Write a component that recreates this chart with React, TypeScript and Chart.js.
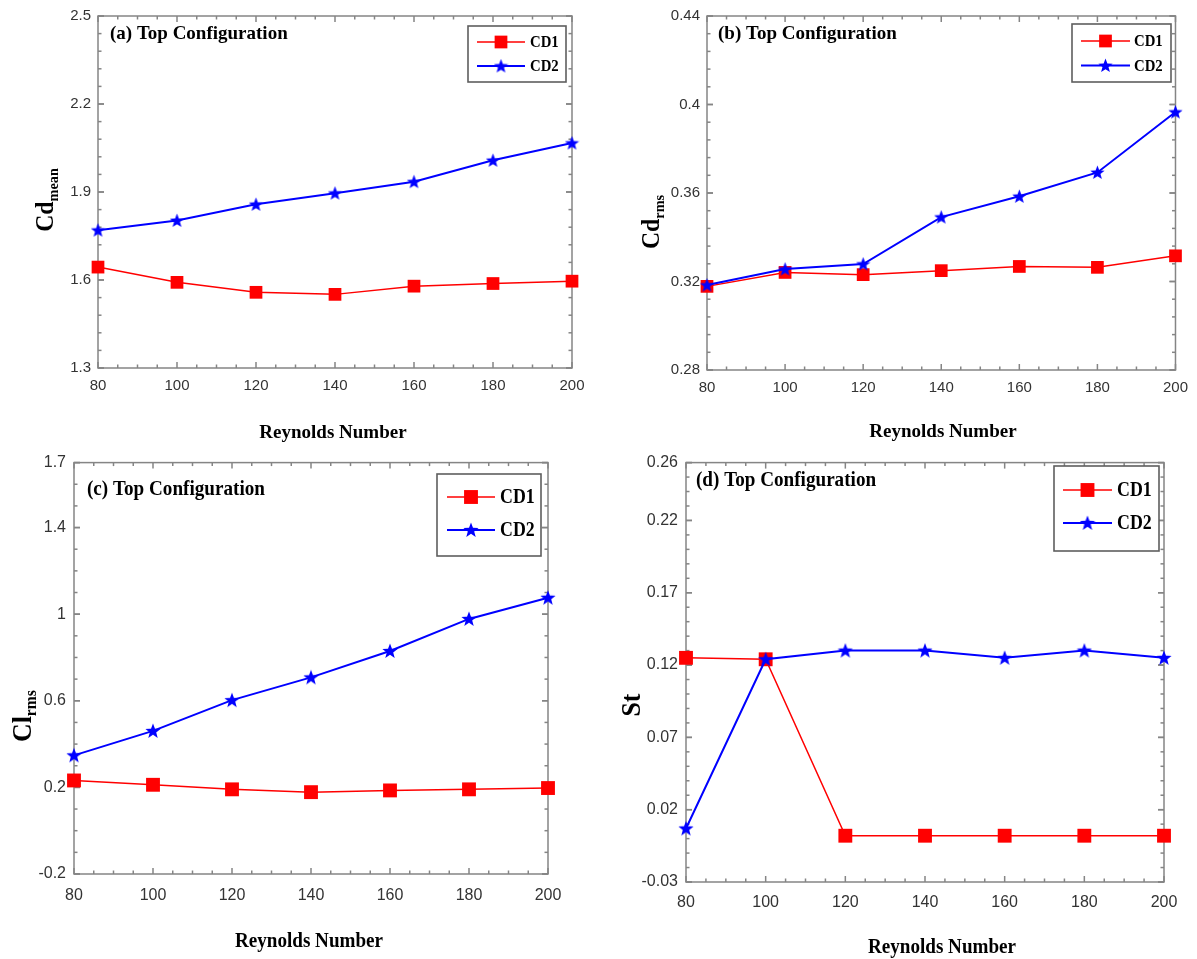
import React, { useEffect, useRef } from "react";
import { Chart, registerables } from "chart.js";
Chart.register(...registerables);

// ---------------- data ----------------
const reynolds = [80, 100, 120, 140, 160, 180, 200];
const xTicks = [80, 100, 120, 140, 160, 180, 200];
const seriesNames = ["CD1", "CD2"];
const xTitle = "Reynolds Number";

const cdMeanCD1 = [1.644, 1.592, 1.558, 1.551, 1.579, 1.588, 1.596];
const cdMeanCD2 = [1.77, 1.803, 1.858, 1.896, 1.935, 2.008, 2.067];
const cdMeanTicks = [1.3, 1.6, 1.9, 2.2, 2.5];

const cdRmsCD1 = [0.3178, 0.3241, 0.3231, 0.3249, 0.3268, 0.3264, 0.3316];
const cdRmsCD2 = [0.3184, 0.3256, 0.3279, 0.3491, 0.3585, 0.3693, 0.3966];
const cdRmsTicks = [0.28, 0.32, 0.36, 0.4, 0.44];

const clRmsCD1 = [0.232, 0.212, 0.191, 0.178, 0.186, 0.191, 0.197];
const clRmsCD2 = [0.348, 0.461, 0.603, 0.708, 0.83, 0.978, 1.076];
const clRmsTicks = [-0.2, 0.2, 0.6, 1, 1.4, 1.7];

const stCD1 = [0.125, 0.124, 0.002, 0.002, 0.002, 0.002, 0.002];
const stCD2 = [0.007, 0.124, 0.13, 0.13, 0.125, 0.13, 0.125];
const stTicks = [-0.03, 0.02, 0.07, 0.12, 0.17, 0.22, 0.26];

// ---------------- styling ----------------
const SERIF = '"Liberation Serif", "Times New Roman", serif';
const SANS = '"Liberation Sans", Arial, Helvetica, sans-serif';
const AXIS_COLOR = "#858585";
const RED = "#ff0000";
const BLUE = "#0000ff";

type Panel = {
  key: string;
  title: string;
  yMain: string;
  ySub: string;
  cd1: number[];
  cd2: number[];
  yTicks: number[];
  yMinor: number;
  canvas: { x: number; y: number; w: number; h: number };
  area: { l: number; t: number; r: number; b: number };
  tickFont: number;
  xPad: number;
  yPad: number;
  titlePos: { x: number; y: number; size: number; hs: number };
  legend: {
    l: number; t: number; r: number; b: number;
    rows: number[]; lx0: number; lx1: number; mx: number; tx: number;
    size: number; hs: number;
  };
  xTitlePos: { x: number; y: number; size: number; hs: number };
  yTitlePos: { x: number; y: number; size: number; sub: number; hs: number };
  sq: number;
  star: number;
};

const panels: Panel[] = [
  {
    key: "a", title: "(a) Top Configuration", yMain: "Cd", ySub: "mean",
    cd1: cdMeanCD1, cd2: cdMeanCD2, yTicks: cdMeanTicks, yMinor: 0.06,
    canvas: { x: 0, y: 0, w: 598, h: 445 },
    area: { l: 98, t: 13, r: 572, b: 368 },
    tickFont: 15, xPad: 9, yPad: 7,
    titlePos: { x: 110, y: 34, size: 19, hs: 1 },
    legend: { l: 468, t: 26, r: 566, b: 82, rows: [42, 66], lx0: 477, lx1: 525, mx: 501, tx: 530, size: 17, hs: 0.87 },
    xTitlePos: { x: 333, y: 433, size: 19, hs: 1 },
    yTitlePos: { x: 53, y: 200, size: 25, sub: 15, hs: 0.95 },
    sq: 9, star: 15,
  },
  {
    key: "b", title: "(b) Top Configuration", yMain: "Cd", ySub: "rms",
    cd1: cdRmsCD1, cd2: cdRmsCD2, yTicks: cdRmsTicks, yMinor: 0.008,
    canvas: { x: 598, y: 0, w: 599, h: 445 },
    area: { l: 707, t: 14, r: 1179, b: 370 },
    tickFont: 15, xPad: 9, yPad: 7,
    titlePos: { x: 718, y: 34, size: 19, hs: 1 },
    legend: { l: 1072, t: 24, r: 1171, b: 82, rows: [41, 65.5], lx0: 1081, lx1: 1130, mx: 1105.5, tx: 1134, size: 17, hs: 0.87 },
    xTitlePos: { x: 943, y: 432, size: 19, hs: 1 },
    yTitlePos: { x: 659, y: 222, size: 25, sub: 15, hs: 0.95 },
    sq: 9, star: 15,
  },
  {
    key: "c", title: "(c) Top Configuration", yMain: "Cl", ySub: "rms",
    cd1: clRmsCD1, cd2: clRmsCD2, yTicks: clRmsTicks, yMinor: 0.1,
    canvas: { x: 0, y: 445, w: 598, h: 514 },
    area: { l: 74, t: 462, r: 548, b: 874 },
    tickFont: 16, xPad: 12, yPad: 8,
    titlePos: { x: 87, y: 489, size: 22, hs: 0.87 },
    legend: { l: 437, t: 474, r: 541, b: 556, rows: [497, 530], lx0: 447, lx1: 495, mx: 471, tx: 500, size: 21, hs: 0.85 },
    xTitlePos: { x: 309, y: 942, size: 21, hs: 0.91 },
    yTitlePos: { x: 31, y: 716, size: 28, sub: 17, hs: 0.92 },
    sq: 9.8, star: 16,
  },
  {
    key: "d", title: "(d) Top Configuration", yMain: "St", ySub: "",
    cd1: stCD1, cd2: stCD2, yTicks: stTicks, yMinor: 0.01,
    canvas: { x: 598, y: 445, w: 599, h: 514 },
    area: { l: 686, t: 455, r: 1164, b: 882 },
    tickFont: 16, xPad: 11, yPad: 8,
    titlePos: { x: 696, y: 480, size: 22, hs: 0.87 },
    legend: { l: 1054, t: 466, r: 1159, b: 551, rows: [490, 523], lx0: 1063, lx1: 1112, mx: 1087.5, tx: 1117, size: 21, hs: 0.85 },
    xTitlePos: { x: 942, y: 948, size: 21, hs: 0.91 },
    yTitlePos: { x: 640, y: 705, size: 28, sub: 17, hs: 0.92 },
    sq: 9.8, star: 16,
  },
];

function makeStar(size: number, color: string): HTMLCanvasElement {
  const c = document.createElement("canvas");
  c.width = size;
  c.height = size;
  const g = c.getContext("2d")!;
  const cx = size / 2, cy = size / 2 + 0.5, R = size / 2, r = R * 0.42;
  g.beginPath();
  for (let i = 0; i < 10; i++) {
    const ang = -Math.PI / 2 + (i * Math.PI) / 5;
    const rad = i % 2 === 0 ? R : r;
    g.lineTo(cx + rad * Math.cos(ang), cy + rad * Math.sin(ang));
  }
  g.closePath();
  g.fillStyle = color;
  g.fill();
  return c;
}

function drawText(ctx: CanvasRenderingContext2D, s: string, x: number, y: number, font: string, hs: number, align: CanvasTextAlign, color = "#000") {
  ctx.save();
  ctx.translate(x, y);
  ctx.scale(hs, 1);
  ctx.font = font;
  ctx.fillStyle = color;
  ctx.textAlign = align;
  ctx.textBaseline = "middle";
  ctx.fillText(s, 0, 0);
  ctx.restore();
}

function makeDeco(p: Panel, star: HTMLCanvasElement) {
  const ox = p.canvas.x, oy = p.canvas.y;
  return {
    id: "deco" + p.key,
    beforeDatasetsDraw(chart: any) {
      const { ctx, chartArea: a, scales } = chart;
      const xs = scales.x, ys = scales.y;
      ctx.save();
      ctx.strokeStyle = AXIS_COLOR;
      ctx.lineWidth = 1.5;
      const seg = (x1: number, y1: number, x2: number, y2: number) => {
        ctx.beginPath();
        ctx.moveTo(x1, y1);
        ctx.lineTo(x2, y2);
        ctx.stroke();
      };
      const near = (v: number, arr: number[], eps: number) => arr.some((t) => Math.abs(t - v) < eps);
      // x ticks
      for (let v = 80; v <= 200 + 1e-9; v += 5) {
        const major = near(v, xTicks, 1e-6);
        const len = major ? 6 : 3.5;
        const px = xs.getPixelForValue(v);
        seg(px, a.bottom, px, a.bottom - len);
        seg(px, a.top, px, a.top + len);
      }
      // y ticks
      const ymin = p.yTicks[0], ymax = p.yTicks[p.yTicks.length - 1];
      const n = Math.round((ymax - ymin) / p.yMinor);
      for (let i = 0; i <= n; i++) {
        const v = ymin + i * p.yMinor;
        if (v > ymax + 1e-9) break;
        const major = near(v, p.yTicks, p.yMinor * 0.01);
        const len = major ? 6 : 3.5;
        const py = ys.getPixelForValue(v);
        seg(a.left, py, a.left + len, py);
        seg(a.right, py, a.right - len, py);
      }
      p.yTicks.forEach((v) => {
        const py = ys.getPixelForValue(v);
        seg(a.left, py, a.left + 6, py);
        seg(a.right, py, a.right - 6, py);
      });
      ctx.strokeRect(a.left, a.top, a.right - a.left, a.bottom - a.top);
      ctx.restore();
    },
    afterDraw(chart: any) {
      const ctx: CanvasRenderingContext2D = chart.ctx;
      ctx.save();
      // panel title
      drawText(ctx, p.title, p.titlePos.x - ox, p.titlePos.y - oy, `bold ${p.titlePos.size}px ${SERIF}`, p.titlePos.hs, "left");
      // x title
      drawText(ctx, xTitle, p.xTitlePos.x - ox, p.xTitlePos.y - oy, `bold ${p.xTitlePos.size}px ${SERIF}`, p.xTitlePos.hs, "center");
      // y title (rotated, with subscript)
      {
        const yt = p.yTitlePos;
        ctx.save();
        ctx.translate(yt.x - ox, yt.y - oy);
        ctx.rotate(-Math.PI / 2);
        ctx.scale(yt.hs, 1);
        ctx.fillStyle = "#000";
        ctx.textBaseline = "alphabetic";
        ctx.textAlign = "left";
        const fMain = `bold ${yt.size}px ${SERIF}`;
        const fSub = `bold ${yt.sub}px ${SERIF}`;
        ctx.font = fMain;
        const wMain = ctx.measureText(p.yMain).width;
        ctx.font = fSub;
        const wSub = p.ySub ? ctx.measureText(p.ySub).width : 0;
        const start = -(wMain + wSub) / 2;
        ctx.font = fMain;
        ctx.fillText(p.yMain, start, 0);
        if (p.ySub) {
          ctx.font = fSub;
          ctx.fillText(p.ySub, start + wMain, yt.sub * 0.3);
        }
        ctx.restore();
      }
      // legend
      const L = p.legend;
      ctx.fillStyle = "#fff";
      ctx.fillRect(L.l - ox, L.t - oy, L.r - L.l, L.b - L.t);
      ctx.strokeStyle = "#5e5e5e";
      ctx.lineWidth = 1.6;
      ctx.strokeRect(L.l - ox, L.t - oy, L.r - L.l, L.b - L.t);
      seriesNames.forEach((name, i) => {
        const ry = L.rows[i] - oy;
        const color = i === 0 ? RED : BLUE;
        ctx.strokeStyle = color;
        ctx.lineWidth = i === 0 ? 1.5 : 2;
        ctx.beginPath();
        ctx.moveTo(L.lx0 - ox, ry);
        ctx.lineTo(L.lx1 - ox, ry);
        ctx.stroke();
        const mx = L.mx - ox;
        if (i === 0) {
          const s = p.sq * Math.SQRT1_2;
          ctx.fillStyle = RED;
          ctx.fillRect(mx - s, ry - s, 2 * s, 2 * s);
        } else {
          ctx.drawImage(star, mx - star.width / 2, ry - star.height / 2);
        }
        drawText(ctx, name, L.tx - ox, ry + 1, `bold ${L.size}px ${SERIF}`, L.hs, "left");
      });
      ctx.restore();
    },
  };
}

const fmt = (v: any) => String(parseFloat(Number(v).toFixed(4)));

function PanelChart({ p }: { p: Panel }) {
  const ref = useRef<HTMLCanvasElement | null>(null);
  useEffect(() => {
    if (!ref.current) return;
    const star = makeStar(p.star, BLUE);
    const pad = {
      top: p.area.t - p.canvas.y,
      right: p.canvas.x + p.canvas.w - p.area.r,
      left: 0,
      bottom: 0,
    };
    const yW = p.area.l - p.canvas.x;
    const xH = p.canvas.y + p.canvas.h - p.area.b;
    const tickFont = { family: SANS, size: p.tickFont };
    const chart = new Chart(ref.current, {
      type: "line",
      data: {
        datasets: [
          {
            label: seriesNames[0],
            data: reynolds.map((x, i) => ({ x, y: p.cd1[i] })),
            borderColor: RED,
            backgroundColor: RED,
            borderWidth: 1.5,
            pointStyle: "rect",
            pointRadius: p.sq,
            pointBorderWidth: 0,
            pointBackgroundColor: RED,
            tension: 0,
            clip: false as any,
            order: 2,
          },
          {
            label: seriesNames[1],
            data: reynolds.map((x, i) => ({ x, y: p.cd2[i] })),
            borderColor: BLUE,
            backgroundColor: BLUE,
            borderWidth: 2,
            pointStyle: star as any,
            pointRadius: p.star / 2,
            tension: 0,
            clip: false as any,
            order: 1,
          },
        ],
      },
      options: {
        responsive: false,
        animation: false,
        devicePixelRatio: 1,
        layout: { padding: pad },
        plugins: {
          legend: { display: false },
          tooltip: { enabled: false },
          title: { display: false },
        },
        scales: {
          x: {
            type: "linear",
            min: 80,
            max: 200,
            grid: { display: false, drawTicks: false },
            border: { display: false },
            ticks: { font: tickFont, color: "#333", padding: p.xPad, maxRotation: 0, autoSkip: false, callback: fmt },
            afterBuildTicks: (s: any) => {
              s.ticks = xTicks.map((v) => ({ value: v }));
            },
            afterFit: (s: any) => {
              s.height = xH;
            },
          },
          y: {
            type: "linear",
            min: p.yTicks[0],
            max: p.yTicks[p.yTicks.length - 1],
            grid: { display: false, drawTicks: false },
            border: { display: false },
            ticks: { font: tickFont, color: "#333", padding: p.yPad, autoSkip: false, callback: fmt },
            afterBuildTicks: (s: any) => {
              s.ticks = p.yTicks.map((v) => ({ value: v }));
            },
            afterFit: (s: any) => {
              s.width = yW;
            },
          },
        },
      },
      plugins: [makeDeco(p, star)],
    });
    return () => chart.destroy();
  }, [p]);
  return (
    <canvas
      ref={ref}
      width={p.canvas.w}
      height={p.canvas.h}
      style={{ position: "absolute", left: p.canvas.x, top: p.canvas.y, width: p.canvas.w, height: p.canvas.h }}
    />
  );
}

export default function App() {
  return (
    <div style={{ position: "absolute", left: 0, top: 0, width: 1197, height: 959, background: "#fff" }}>
      {panels.map((p) => (
        <PanelChart key={p.key} p={p} />
      ))}
    </div>
  );
}
